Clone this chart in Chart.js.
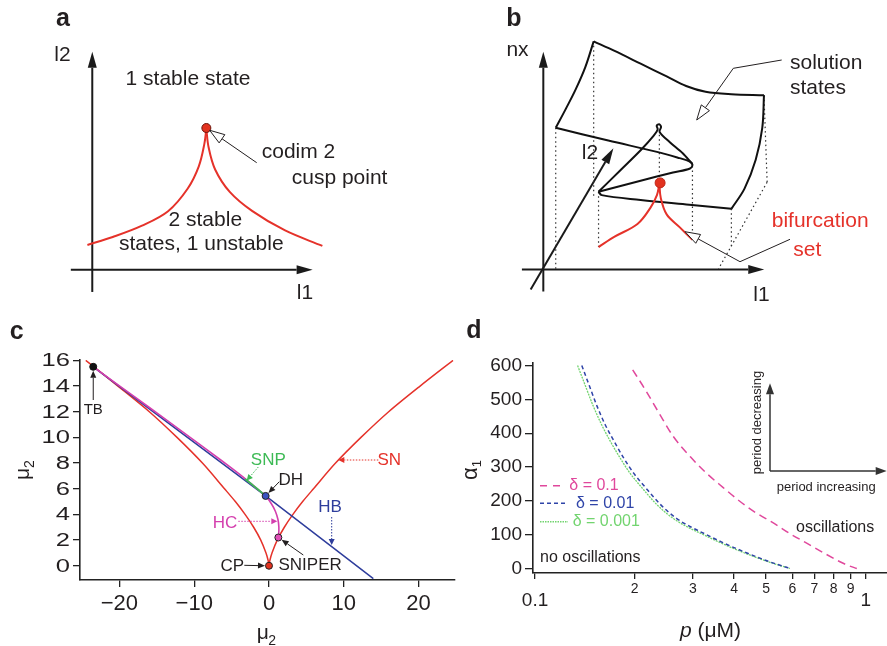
<!DOCTYPE html>
<html><head><meta charset="utf-8">
<script src="https://cdn.jsdelivr.net/npm/chart.js@4.4.1/dist/chart.umd.min.js"></script>
<style>
html,body{margin:0;padding:0;background:#fff}
#wrap{position:relative;width:887px;height:646px;overflow:hidden;background:#fff}
canvas{position:absolute;display:block}
</style></head><body>
<div id="wrap">
<canvas id="cvA" width="440" height="310" style="left:0;top:0"></canvas>
<canvas id="cvC" width="460" height="336" style="left:0;top:310px"></canvas>
<canvas id="cvB" width="447" height="310" style="left:440px;top:0"></canvas>
<canvas id="cvD" width="447" height="336" style="left:440px;top:310px"></canvas>
</div>
<script>
// ================= DATA =================
// Panel a: schematic cusp bifurcation set in (l1, l2)
const aCuspLeft  = [[-0.2,1.03],[0.84,1.36],[2.04,1.83],[3.11,2.43],[3.91,3.36],[4.37,4.29],[4.6,5.23],[4.68,5.85]];
const aCuspRight = [[4.68,5.85],[4.77,5.09],[5.04,4.16],[5.64,3.23],[6.57,2.43],[7.91,1.63],[9.44,0.99]];
const aCuspPoint = [[4.68,5.88]];

// Panel b: schematic solution surface over (l1, l2) with nx
const bTopEdge    = [[2.07,9.49],[2.93,9.09],[4.0,8.56],[5.07,8.03],[5.87,7.63],[6.67,7.39],[7.73,7.29],[9.07,7.25]];
const bLeftEdge   = [[2.07,9.49],[1.73,8.43],[1.33,7.49],[0.93,6.69],[0.51,5.89]];
const bRightEdge  = [[9.07,7.25],[9.0,5.89],[8.73,4.56],[8.27,3.36],[7.73,2.52]];
const bUpperSheet = [[0.51,5.89],[2.67,5.36],[4.67,4.89],[5.6,4.63],[6.0,4.5],[6.13,4.36],[6.03,4.2],[5.33,4.03],[4.0,3.69],[2.27,3.23]];
const bLowerSheet = [[2.27,3.23],[2.4,3.09],[4.0,2.89],[6.0,2.69],[7.73,2.52]];
const bFoldLine   = [[2.27,3.23],[3.2,4.16],[4.0,4.96],[4.53,5.56],[4.7,5.82],[4.66,5.98],[4.76,6.04],[4.84,5.93],[4.78,5.72],[5.2,5.29],[5.73,4.83],[6.13,4.38]];
const bBifLeft    = [[4.77,3.56],[4.67,3.09],[4.4,2.56],[3.87,1.89],[2.93,1.36],[2.27,0.93]];
const bBifRight   = [[4.77,3.56],[4.83,2.96],[5.07,2.29],[5.6,1.76],[6.13,1.23]];
const bCuspPoint  = [[4.8,3.6]];
const bDrops = [
  [[0.51,5.89],[0.51,0.02]], [[2.07,9.49],[2.07,3.0]], [[2.27,3.23],[2.27,0.93]],
  [[4.77,5.6],[4.77,3.8]], [[6.13,4.3],[6.13,1.23]], [[9.07,7.25],[9.2,3.63]],
  [[9.2,3.63],[7.2,0.02]], [[7.73,2.52],[7.73,0.84]]
];

// Panel c: two-parameter bifurcation diagram
const cTicksX = [-20,-10,0,10,20];
const cTicksY = [0,2,4,6,8,10,12,14,16];
const cSNLeft  = [[-24.5,16],[-20.2,14],[-16,12],[-12.3,10],[-8.9,8],[-5.95,6],[-4.5,5],[-3.2,4],[-2.05,3],[-1.1,2],[-0.4,1],[-0.13,0.45],[0,0]];
const cSNRight = [[0,0],[0.13,0.45],[0.4,1],[1.1,2],[2.05,3],[3.2,4],[4.5,5],[5.95,6],[8.9,8],[12.3,10],[16,12],[20.2,14],[24.6,16]];
const cHB  = [[-23.5,15.5],[-0.45,5.44],[13.95,-1.0]];
const cHC  = [[-23.5,15.5],[-20,14.02],[-16,12.33],[-12,10.63],[-8,8.91],[-5,7.6],[-3,6.69],[-1.5,5.95],[-0.45,5.44],[0.3,4.85],[0.85,4.25],[1.2,3.6],[1.32,3.0],[1.3,2.5],[1.25,2.2]];
const cSNP = [[-3.2,6.76],[-2,6.2],[-1,5.72],[-0.45,5.44]];
const cTB = [[-23.5,15.5]], cDH = [[-0.45,5.44]], cSNIPER = [[1.25,2.2]], cCP = [[0,0]];

// Panel d: oscillation boundaries, alpha1 vs p (uM)
const dTicksX = [0.1,0.2,0.3,0.4,0.5,0.6,0.7,0.8,0.9,1];
const dTickLabelsX = ['0.1','2','3','4','5','6','7','8','9','1'];
const dTicksY = [0,100,200,300,400,500,600];
const dSeriesNames = ['\u03b4 = 0.1','\u03b4 = 0.01','\u03b4 = 0.001'];
const dDelta1   = [[0.1974,587],[0.215,530],[0.237,460],[0.262,390],[0.295,330],[0.3305,281],[0.37,240],[0.417,198],[0.465,165],[0.5255,135],[0.59,103],[0.663,75],[0.75,45],[0.836,20],[0.88,10],[0.94,0]];
const dDelta01  = [[0.1385,600],[0.146,540],[0.154,480],[0.163,425],[0.173,378],[0.1845,330],[0.199,281],[0.2155,240],[0.239,190],[0.266,150],[0.297,122],[0.327,102],[0.367,78],[0.427,50],[0.505,22],[0.553,9],[0.592,0]];
const dDelta001 = [[0.1345,600],[0.142,540],[0.150,480],[0.159,425],[0.1685,378],[0.180,330],[0.194,281],[0.21,240],[0.233,190],[0.26,150],[0.29,122],[0.32,102],[0.36,78],[0.42,50],[0.50,22],[0.55,9],[0.59,0]];

// ================= HELPERS =================
const FONT = '"Liberation Sans", Arial, Helvetica, sans-serif';
const INK = '#231f20';
const RED = '#e5322a', BLUE = '#2e3d9c', MAG = '#d43fae', GREEN = '#3dba55';
const D1 = '#e0489c', D2 = '#2f44a8', D3 = '#72d46f';
Chart.defaults.font.family = FONT;
Chart.defaults.color = INK;

function xy(a){ return a.map(p => ({x:p[0], y:p[1]})); }
function P(ch, x, y){ return [ch.scales.x.getPixelForValue(x), ch.scales.y.getPixelForValue(y)]; }
function lineDs(a, color, w, extra){
  return Object.assign({data:xy(a), showLine:true, borderColor:color, borderWidth:w, pointRadius:0, fill:false, tension:0.35}, extra||{});
}
function dotDs(a, fill, border, r){
  return {data:xy(a), showLine:false, pointRadius:r, pointBackgroundColor:fill, pointBorderColor:border, pointBorderWidth:1};
}
function txt(ctx, s, x, y, o){
  o = o || {};
  ctx.save();
  ctx.font = (o.style||'normal') + ' ' + (o.weight||'normal') + ' ' + (o.size||21) + 'px ' + FONT;
  ctx.fillStyle = o.color || INK;
  ctx.textAlign = o.align || 'center';
  ctx.textBaseline = o.base || 'middle';
  if (o.rot){ ctx.translate(x,y); ctx.rotate(o.rot); ctx.fillText(s,0,0); }
  else ctx.fillText(s,x,y);
  ctx.restore();
}
function arrow(ctx, pts, o){
  o = o || {};
  const col = o.color || INK;
  ctx.save();
  ctx.strokeStyle = col; ctx.fillStyle = col; ctx.lineWidth = o.width || 1;
  const L = o.len || 8, H = o.half || 3;
  const n = pts.length, p1 = pts[n-2], p2 = pts[n-1];
  const a = Math.atan2(p2[1]-p1[1], p2[0]-p1[0]);
  const bx = p2[0]-L*Math.cos(a), by = p2[1]-L*Math.sin(a);
  if (o.dash) ctx.setLineDash(o.dash);
  ctx.beginPath(); ctx.moveTo(pts[0][0], pts[0][1]);
  for (let i=1;i<n-1;i++) ctx.lineTo(pts[i][0], pts[i][1]);
  ctx.lineTo(bx, by); ctx.stroke();
  ctx.setLineDash([]);
  const px = -Math.sin(a)*H, py = Math.cos(a)*H;
  ctx.beginPath(); ctx.moveTo(p2[0],p2[1]); ctx.lineTo(bx+px,by+py); ctx.lineTo(bx-px,by-py); ctx.closePath();
  if (o.open){ ctx.fillStyle = '#fff'; ctx.fill(); ctx.lineWidth = 1; ctx.stroke(); }
  else ctx.fill();
  ctx.restore();
}
function toward(p, q, d){ // point at distance d from p toward q
  const dx = q[0]-p[0], dy = q[1]-p[1], l = Math.hypot(dx,dy);
  return [p[0]+dx/l*d, p[1]+dy/l*d];
}
function schemOpts(x0,x1,y0,y1){
  return {responsive:false, animation:false, events:[], layout:{padding:0},
    plugins:{legend:{display:false}, tooltip:{enabled:false}},
    scales:{x:{type:'linear', display:false, min:x0, max:x1}, y:{type:'linear', display:false, min:y0, max:y1}}};
}

// ================= PANEL A =================
new Chart(document.getElementById('cvA'), {
  type:'scatter',
  data:{datasets:[
    dotDs(aCuspPoint, '#e2321f', '#6b150c', 4.5),
    lineDs(aCuspLeft, RED, 2),
    lineDs(aCuspRight, RED, 2)
  ]},
  options: schemOpts(-3.56, 14.04, -1.44, 10.96),
  plugins:[{id:'annA',
    beforeDatasetsDraw(ch){
      const ctx = ch.ctx;
      arrow(ctx, [P(ch,-0.88,0), P(ch,9.04,0)], {width:2, len:16, half:4.5, color:'#1a1a1a'});
      arrow(ctx, [P(ch,0,-0.92), P(ch,0,9.04)], {width:2, len:16, half:4.5, color:'#1a1a1a'});
    },
    afterDatasetsDraw(ch){
      const ctx = ch.ctx;
      txt(ctx, 'a', 63, 19, {size:25, weight:'bold'});
      txt(ctx, 'l2', 62.5, 55);
      txt(ctx, 'l1', 305, 293);
      txt(ctx, '1 stable state', 188, 79);
      txt(ctx, 'codim 2', 261.7, 152, {align:'left'});
      txt(ctx, 'cusp point', 291.7, 178, {align:'left'});
      txt(ctx, '2 stable', 205.3, 220);
      txt(ctx, 'states, 1 unstable', 201.3, 244);
      const cp = P(ch, aCuspPoint[0][0], aCuspPoint[0][1]);
      const st = [256.7,162.7];
      arrow(ctx, [st, toward(cp, st, 4)], {open:true, len:15, half:5});
    }}]
});

// ================= PANEL B =================
const bDropSets = bDrops.map(seg => lineDs(seg, '#333', 1.2, {tension:0, borderDash:[1.5,3]}));
new Chart(document.getElementById('cvB'), {
  type:'scatter',
  data:{datasets:[
    dotDs(bCuspPoint, '#e2321f', '#c0281a', 5),
    lineDs(bBifLeft, RED, 2),
    lineDs(bBifRight, RED, 2),
    lineDs(bTopEdge, '#111', 2),
    lineDs(bLeftEdge, '#111', 2),
    lineDs(bRightEdge, '#111', 2),
    lineDs(bUpperSheet, '#111', 2),
    lineDs(bLowerSheet, '#111', 2),
    lineDs(bFoldLine, '#111', 2, {tension:0.3}),
  ].concat(bDropSets)},
  options: schemOpts(-4, 13.88, -1.44, 10.96),
  plugins:[{id:'annB',
    beforeDatasetsDraw(ch){
      const ctx = ch.ctx;
      arrow(ctx, [P(ch,-0.88,0), P(ch,9.08,0)], {width:2, len:16, half:4.5, color:'#1a1a1a'});
      arrow(ctx, [P(ch,0,-0.92), P(ch,0,9.06)], {width:2, len:16, half:4.5, color:'#1a1a1a'});
      arrow(ctx, [P(ch,-0.52,-0.84), P(ch,2.88,5.04)], {width:2, len:16, half:4.5, color:'#1a1a1a'});
    },
    afterDatasetsDraw(ch){
      const ctx = ch.ctx;
      txt(ctx, 'b', 74, 19, {size:25, weight:'bold'});
      txt(ctx, 'nx', 77.5, 50);
      txt(ctx, 'l2', 150, 153);
      txt(ctx, 'l1', 321.5, 295);
      txt(ctx, 'solution', 350, 63.3, {align:'left'});
      txt(ctx, 'states', 350, 88.3, {align:'left'});
      txt(ctx, 'bifurcation', 331.7, 221.7, {align:'left', color:RED});
      txt(ctx, 'set', 353.3, 250, {align:'left', color:RED});
      arrow(ctx, [[341.7,60],[293.3,68.3],[256.7,120]], {open:true, len:15, half:5});
      arrow(ctx, [[350,239.3],[300,261.7],[245,231.7]], {open:true, len:15, half:5});
    }}]
});

// ================= PANEL C =================
new Chart(document.getElementById('cvC'), {
  type:'scatter',
  data:{datasets:[
    dotDs(cCP, '#e2321f', '#222', 3.5),
    dotDs(cSNIPER, '#e050b8', '#222', 3.5),
    dotDs(cDH, '#3a52c0', '#222', 3.5),
    dotDs(cTB, '#111', '#111', 3.5),
    lineDs(cSNP, GREEN, 1.8, {tension:0.2}),
    lineDs(cHC, MAG, 1.6, {tension:0.3}),
    lineDs(cHB, BLUE, 1.5, {tension:0}),
    lineDs(cSNLeft, RED, 1.5, {tension:0.3}),
    lineDs(cSNRight, RED, 1.5, {tension:0.3})
  ]},
  options:{responsive:false, animation:false, events:[],
    layout:{padding:{top:50, right:5, left:0, bottom:0}},
    plugins:{legend:{display:false}, tooltip:{enabled:false}},
    scales:{
      x:{type:'linear', min:-25.27, max:24.87,
        afterBuildTicks: s => { s.ticks = cTicksX.map(v => ({value:v})); },
        afterFit: s => { s.height = 66; },
        ticks:{font:{size:22}, color:INK, padding:4, maxRotation:0,
          callback: v => v < 0 ? '\u2212' + Math.abs(v) : String(v)},
        grid:{display:true, drawOnChartArea:false, drawTicks:true, tickLength:7, color:'#222', lineWidth:1.3},
        border:{display:true, color:'#222', width:1.6}},
      y:{type:'linear', min:-1.11, max:16.03,
        afterBuildTicks: s => { s.ticks = cTicksY.map(v => ({value:v})); },
        afterFit: s => { s.width = 80; },
        ticks:{display:false},
        grid:{display:true, drawOnChartArea:false, drawTicks:true, tickLength:7, color:'#222', lineWidth:1.3},
        border:{display:true, color:'#222', width:1.6}}
    }},
  plugins:[{id:'annC',
    afterDraw(ch){
      const ctx = ch.ctx;
      // stretched y tick labels
      cTicksY.forEach(v => {
        const y = ch.scales.y.getPixelForValue(v);
        ctx.save(); ctx.translate(70, y); ctx.scale(1.42, 1);
        ctx.font = '18px ' + FONT; ctx.fillStyle = INK; ctx.textAlign = 'right'; ctx.textBaseline = 'middle';
        ctx.fillText(String(v), 0, 1); ctx.restore();
      });
      // axis titles
      ctx.save(); ctx.fillStyle = INK;
      ctx.font = '21px ' + FONT; ctx.textBaseline = 'alphabetic'; ctx.textAlign = 'left';
      ctx.fillText('\u03bc', 256.7, 329);
      ctx.font = '14px ' + FONT; ctx.fillText('2', 268.3, 335);
      ctx.translate(29.3, 170); ctx.rotate(-Math.PI/2);
      ctx.font = '21px ' + FONT; ctx.fillText('\u03bc', 0, 0);
      const w = ctx.measureText('\u03bc').width;
      ctx.font = '14px ' + FONT; ctx.fillText('2', w, 4.5);
      ctx.restore();
      txt(ctx, 'c', 16.7, 22, {size:25, weight:'bold'});
      // annotations
      const tb = P(ch, cTB[0][0], cTB[0][1]);
      txt(ctx, 'TB', tb[0], 99.5, {size:15});
      arrow(ctx, [[tb[0],90],[tb[0],tb[1]+4]], {len:7, half:3});
      txt(ctx, 'SNP', 268.3, 150.7, {size:17, color:GREEN});
      arrow(ctx, [[258.3,157],[246.7,170.5]], {color:GREEN, dash:[1.5,1.5], len:6, half:3});
      const dh = P(ch, cDH[0][0], cDH[0][1]);
      txt(ctx, 'DH', 290.7, 170, {size:17});
      arrow(ctx, [[279.3,171.7], toward(dh,[279.3,171.7],4)], {len:7, half:3});
      txt(ctx, 'HC', 225, 213.3, {size:17, color:MAG});
      arrow(ctx, [[238.3,211.3],[277.3,211.3]], {color:MAG, dash:[1.5,1.5], len:6, half:3});
      txt(ctx, 'HB', 330, 197.7, {size:17, color:BLUE});
      arrow(ctx, [[331.7,207],[331.7,235]], {color:BLUE, dash:[1.5,1.5], len:6, half:3});
      txt(ctx, 'SN', 389.3, 150.7, {size:17, color:RED});
      arrow(ctx, [[378.3,150],[338.3,150]], {color:RED, dash:[1.5,1.5], len:6, half:3});
      const sp = P(ch, cSNIPER[0][0], cSNIPER[0][1]);
      txt(ctx, 'SNIPER', 278.5, 255.3, {size:17, align:'left'});
      arrow(ctx, [[303.3,245], toward(sp,[303.3,245],4)], {len:7, half:3});
      const cp = P(ch, cCP[0][0], cCP[0][1]);
      txt(ctx, 'CP', 232.3, 256, {size:17});
      arrow(ctx, [[244.3,255.3],[cp[0]-4,cp[1]]], {len:7, half:3});
    }}]
});

// ================= PANEL D =================
new Chart(document.getElementById('cvD'), {
  type:'scatter',
  data:{datasets:[
    lineDs(dDelta01, D2, 1.5, {label:dSeriesNames[1], borderDash:[4,3], tension:0, cubicInterpolationMode:'monotone'}),
    lineDs(dDelta001, D3, 1.3, {label:dSeriesNames[2], borderDash:[2,1], tension:0, cubicInterpolationMode:'monotone'}),
    lineDs(dDelta1, D1, 1.5, {label:dSeriesNames[0], borderDash:[8,5], tension:0, cubicInterpolationMode:'monotone'})
  ]},
  options:{responsive:false, animation:false, events:[],
    layout:{padding:{top:53, right:0, left:0, bottom:0}},
    plugins:{legend:{display:false}, tooltip:{enabled:false}},
    scales:{
      x:{type:'logarithmic', min:0.0986, max:1.16,
        afterBuildTicks: s => { s.ticks = dTicksX.map(v => ({value:v})); },
        afterFit: s => { s.height = 73; },
        ticks:{display:false},
        grid:{display:true, drawOnChartArea:false, drawTicks:true, tickLength:6, color:'#222', lineWidth:1.3},
        border:{display:true, color:'#222', width:1.6}},
      y:{type:'linear', min:-13.3, max:607.4,
        afterBuildTicks: s => { s.ticks = dTicksY.map(v => ({value:v})); },
        afterFit: s => { s.width = 93; },
        ticks:{font:{size:19}, color:INK, padding:3},
        grid:{display:true, drawOnChartArea:false, drawTicks:true, tickLength:8, color:'#222', lineWidth:1.3},
        border:{display:true, color:'#222', width:1.6}}
    }},
  plugins:[{id:'annD',
    afterDraw(ch){
      const ctx = ch.ctx;
      // x tick labels (two rows like the original)
      dTicksX.forEach((v,i) => {
        const x = ch.scales.x.getPixelForValue(v);
        const big = (v === 0.1 || v === 1);
        txt(ctx, dTickLabelsX[i], x, big ? 290.5 : 279.5, {size: big ? 19 : 14});
      });
      // axis titles
      ctx.save(); ctx.fillStyle = INK; ctx.textBaseline = 'alphabetic'; ctx.textAlign = 'left';
      ctx.font = 'italic 21px ' + FONT; ctx.fillText('p', 240, 327.3);
      const wp = ctx.measureText('p').width;
      ctx.font = '21px ' + FONT; ctx.fillText(' (\u03bcM)', 240 + wp, 327.3);
      ctx.translate(37, 170); ctx.rotate(-Math.PI/2);
      ctx.font = '22px ' + FONT; ctx.fillText('\u03b1', 0, 0);
      const wa = ctx.measureText('\u03b1').width;
      ctx.font = '13px ' + FONT; ctx.fillText('1', wa, 4);
      ctx.restore();
      txt(ctx, 'd', 34, 21, {size:25, weight:'bold'});
      // legend
      const leg = [[D1,[7,6],20,129.3,175.7],[D2,[4,3],28,136,193.3],[D3,[1.5,1],28,132.7,211.7]];
      leg.forEach((l,i) => {
        ctx.save(); ctx.strokeStyle = l[0]; ctx.lineWidth = 1.5; ctx.setLineDash(l[1]);
        ctx.beginPath(); ctx.moveTo(100, l[4]); ctx.lineTo(100 + l[2], l[4]); ctx.stroke(); ctx.restore();
        txt(ctx, dSeriesNames[i], l[3], l[4], {size:16, align:'left', color:l[0]});
      });
      txt(ctx, 'no oscillations', 100, 247.7, {size:16, align:'left'});
      txt(ctx, 'oscillations', 356, 217.3, {size:16, align:'left'});
      txt(ctx, 'period increasing', 336.7, 177.3, {size:13, align:'left'});
      txt(ctx, 'period decreasing', 317.3, 112.5, {size:13, rot:-Math.PI/2});
      arrow(ctx, [[330,161],[330,73.3]], {width:1.5, len:11, half:4, color:'#333'});
      arrow(ctx, [[330,161],[446.7,161]], {width:1.5, len:11, half:4, color:'#333'});
    }}]
});
</script></body></html>
